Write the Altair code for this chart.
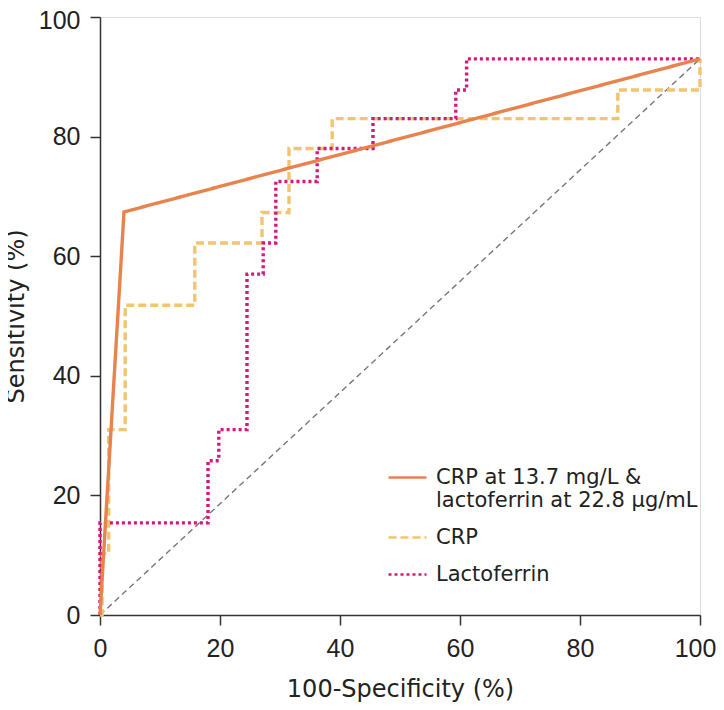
import altair as alt
import pandas as pd

# Series names
combo_name = "CRP at 13.7 mg/L & lactoferrin at 22.8 µg/mL"
crp_name = "CRP"
lacto_name = "Lactoferrin"
series_names = [combo_name, crp_name, lacto_name]
series_colors = ["#E8834E", "#F3C46F", "#D4197B"]

# Combined CRP + lactoferrin cutoff ROC
combo_x = [0, 4.0, 100]
combo_y = [0, 67.4, 93]

# CRP ROC (step curve)
crp_x = [0, 0.35, 0.35, 1.45, 1.45, 4.2, 4.2, 15.8, 15.8, 27.0, 27.0, 31.5, 31.5, 38.7, 38.7, 86.3, 86.3, 100, 100]
crp_y = [0, 0, 10.3, 10.3, 31.0, 31.0, 51.8, 51.8, 62.2, 62.2, 67.3, 67.3, 78.0, 78.0, 83.0, 83.0, 87.8, 87.8, 93.0]

# Lactoferrin ROC (step curve)
lacto_x = [0, 0, 18.0, 18.0, 19.8, 19.8, 24.5, 24.5, 27.2, 27.2, 29.3, 29.3, 36.2, 36.2, 45.5, 45.5, 59.3, 59.3, 61.1, 61.1, 100]
lacto_y = [0, 15.4, 15.4, 25.8, 25.8, 31.0, 31.0, 57.0, 57.0, 62.2, 62.2, 72.5, 72.5, 78.0, 78.0, 83.0, 83.0, 87.8, 87.8, 93.0, 93.0]

# Reference diagonal
diag_x = [0, 100]
diag_y = [0, 93]

axis_ticks = [0, 20, 40, 60, 80, 100]

rows = []
for name, xs, ys in [(crp_name, crp_x, crp_y), (lacto_name, lacto_x, lacto_y), (combo_name, combo_x, combo_y)]:
    for i, (xv, yv) in enumerate(zip(xs, ys)):
        rows.append({"series": name, "x": xv, "y": yv, "order": i})
df = pd.DataFrame(rows)
diag_df = pd.DataFrame({"x": diag_x, "y": diag_y, "order": list(range(len(diag_x)))})

TEXT_FONT = "DejaVu Sans"
TICK_FONT = "Liberation Sans"

xscale = alt.Scale(domain=[0, 100], nice=False)
yscale = alt.Scale(domain=[0, 100], nice=False)

common_axis = dict(values=axis_ticks, grid=False, tickSize=10,
                   labelFontSize=25, titleFontSize=24,
                   labelFont=TICK_FONT, titleFont=TEXT_FONT, titleFontWeight="normal",
                   labelColor="#222", titleColor="#222", domainColor="#333", tickColor="#333",
                   domainWidth=1.5, tickWidth=1.5, labelFlush=False)
x_axis = alt.Axis(title="100-Specificity (%)", labelPadding=11, titlePadding=16,
                  labelOffset={"condition": {"test": "datum.value == 100", "value": -5}, "value": 0},
                  **common_axis)
y_axis = alt.Axis(title="Sensitivity (%)", labelPadding=10, titlePadding=10,
                  labelOffset={"condition": {"test": "datum.value == 100", "value": 3}, "value": 0},
                  **common_axis)

diag = alt.Chart(diag_df).mark_line(color="#777777", strokeDash=[6, 4], strokeWidth=1.4).encode(
    x=alt.X("x:Q", scale=xscale, axis=x_axis),
    y=alt.Y("y:Q", scale=yscale, axis=y_axis),
    order="order:Q",
)

legend = alt.Legend(
    title=None, orient="none", legendX=287, legendY=440,
    symbolType="stroke", symbolSize=1444, symbolStrokeWidth=2.5,
    labelFont=TEXT_FONT, labelFontSize=21, labelColor="#222", labelLimit=400,
    labelExpr="split(replace(datum.label, '& ', '&|'), '|')",
    rowPadding=6, labelOffset=8,
)

curves = alt.Chart(df).mark_line(strokeWidth=3.4, strokeCap="butt").encode(
    x=alt.X("x:Q", scale=xscale, axis=x_axis),
    y=alt.Y("y:Q", scale=yscale, axis=y_axis),
    color=alt.Color("series:N", scale=alt.Scale(domain=series_names, range=series_colors), legend=legend),
    strokeDash=alt.StrokeDash("series:N", scale=alt.Scale(domain=series_names, range=[[1, 0], [8, 4], [3, 3]]), legend=legend),
    detail="series:N",
    order="order:Q",
)

chart = alt.layer(diag, curves).properties(
    width=600, height=598,
    autosize="none",
    padding={"left": 92, "top": 9, "right": 16, "bottom": 87},
).configure_view(strokeWidth=0).configure(background="white")

chart.save("out.html", embed_options={"renderer": "svg", "actions": False})
